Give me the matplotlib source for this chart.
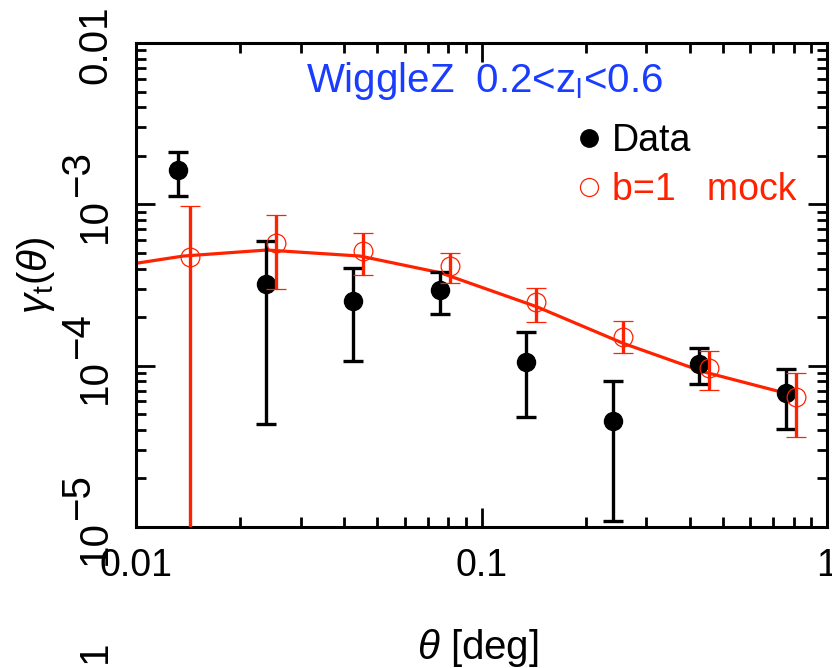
import numpy as np
import matplotlib
matplotlib.use("Agg")
import matplotlib.pyplot as plt
from matplotlib.lines import Line2D

plt.rcParams['font.family'] = ['Liberation Sans', 'DejaVu Sans']
plt.rcParams['mathtext.fontset'] = 'custom'
plt.rcParams['mathtext.rm'] = 'Liberation Sans'
plt.rcParams['mathtext.it'] = 'Liberation Sans:italic'

RED = '#ff2200'
BLUE = '#1a3cff'

# data points (black) : value, upper end, lower end of error bar
theta_data = [0.0132, 0.0238, 0.0424, 0.0759, 0.1345, 0.240, 0.427, 0.761]
gamma_data = [1.63e-3, 3.21e-4, 2.53e-4, 2.94e-4, 1.05e-4, 4.55e-5, 1.02e-4, 6.73e-5]
data_hi = [2.11e-3, 5.92e-4, 4.05e-4, 3.82e-4, 1.62e-4, 8.02e-5, 1.28e-4, 9.48e-5]
data_lo = [1.13e-3, 4.35e-5, 1.07e-4, 2.09e-4, 4.78e-5, 1.09e-5, 7.69e-5, 4.05e-5]

# b=1 mock (red open circles)
theta_mock = [0.0143, 0.0254, 0.0453, 0.0811, 0.1438, 0.256, 0.456, 0.813]
gamma_mock = [4.73e-4, 5.73e-4, 5.15e-4, 4.15e-4, 2.49e-4, 1.51e-4, 9.70e-5, 6.41e-5]
mock_hi = [9.72e-4, 8.55e-4, 6.61e-4, 5.01e-4, 3.01e-4, 1.89e-4, 1.23e-4, 9.04e-5]
mock_lo = [0.0, 2.99e-4, 3.65e-4, 3.27e-4, 1.87e-4, 1.19e-4, 7.06e-5, 3.62e-5]

# model curve
theta_model = [0.01, 0.0137, 0.0239, 0.0445, 0.0759, 0.1444, 0.2573, 0.4385, 0.764]
gamma_model = [4.31e-4, 4.78e-4, 5.21e-4, 4.78e-4, 3.77e-4, 2.32e-4, 1.375e-4, 9.17e-5, 6.73e-5]

yticks = [1e-5, 1e-4, 1e-3]
yexps = ['\u22125', '\u22124', '\u22123']

fig = plt.figure(figsize=(8.32, 6.68), dpi=100)
ax = fig.add_axes([136/832, 1-527/668, (827-136)/832, (527-43)/668])
ax.set_xscale('log')
ax.set_yscale('log')
ax.set_xlim(0.01, 1)
ax.set_ylim(1e-5, 1e-2)

def errs(val, hi, lo):
    val = np.array(val)
    lo = np.clip(np.array(lo), 1e-9, None)
    return [val - lo, np.array(hi) - val]

ax.plot(theta_model, gamma_model, color=RED, lw=2.3, zorder=2)
ax.errorbar(theta_data, gamma_data, yerr=errs(gamma_data, data_hi, data_lo),
            fmt='o', color='black', ms=13, elinewidth=2.4, capsize=7.5,
            capthick=2.4, zorder=3)
ax.errorbar(theta_mock, gamma_mock, yerr=errs(gamma_mock, mock_hi, mock_lo),
            fmt='o', color=RED, mfc='none', mec=RED, ms=13.5, mew=0.9,
            elinewidth=2.4, capsize=7.5, capthick=2.4, zorder=4)

for s in ax.spines.values():
    s.set_linewidth(2.2)
ax.tick_params(which='both', direction='in', top=True, right=True, width=2.0)
ax.tick_params(which='major', length=14)
ax.tick_params(which='minor', length=7.5)
ax.tick_params(axis='x', which='major', labelsize=27, pad=15)

ax.set_xticks([0.01, 0.1, 1])
ax.set_xticklabels(['0.01', '0.1', '1'])
ax.yaxis.set_major_locator(matplotlib.ticker.FixedLocator(yticks + [1e-2]))
ax.yaxis.set_minor_locator(matplotlib.ticker.LogLocator(base=10, subs=np.arange(2, 10), numticks=20))
ax.set_yticklabels([])

# IDL style rotated y tick labels
for t, e in zip(yticks, yexps):
    ax.annotate('10', xy=(0, t), xycoords=('axes fraction', 'data'),
                xytext=(-29.5, -11.5), textcoords='offset points',
                rotation=90, ha='center', va='center', fontsize=29)
    ax.annotate(e, xy=(0, t), xycoords=('axes fraction', 'data'),
                xytext=(-42, 21.5), textcoords='offset points',
                rotation=90, ha='center', va='center', fontsize=29)
ax.annotate('0.01', xy=(0, 1e-2), xycoords=('axes fraction', 'data'),
            xytext=(-29.5, -1.5), textcoords='offset points',
            rotation=90, ha='center', va='center', fontsize=29)
fig.text(95/832, 1-652/668, '1', rotation=90, ha='center', va='center', fontsize=29)

ax.set_xlabel(r'$\theta$ [deg]', fontsize=29)
ax.xaxis.set_label_coords(0.495, -0.207)
ax.set_ylabel(r'$\gamma_{\rm t}(\theta)$', fontsize=29)
ax.yaxis.set_label_coords(-0.115, 0.52)

ax.text(0.505, 0.899, 'WiggleZ  0.2<z$_{\\rm l}$<0.6', transform=ax.transAxes,
        color=BLUE, fontsize=29, ha='center', va='baseline')

handles = [Line2D([], [], ls='none', marker='o', color='black', ms=12.5),
           Line2D([], [], ls='none', marker='o', mfc='none', mec=RED, ms=13, mew=0.9)]
leg = ax.legend(handles, ['Data', 'b=1   mock'], loc='upper left',
                bbox_to_anchor=(0.634, 0.835), frameon=False, fontsize=27,
                handlelength=0.8, handletextpad=0.2, borderpad=0,
                borderaxespad=0, labelspacing=0.35)
leg.get_texts()[1].set_color(RED)

fig.savefig('out.png', dpi=100)
